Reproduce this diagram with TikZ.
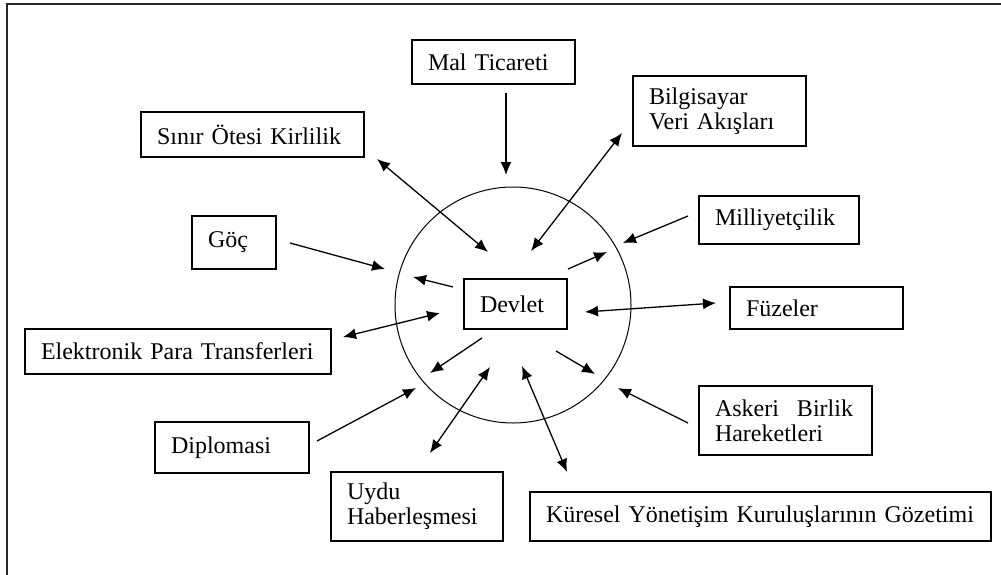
\documentclass[tikz,border=0pt]{standalone}
\usepackage{fontspec}
\setmainfont{Liberation Serif}
\usetikzlibrary{arrows.meta}
\usetikzlibrary{calc}

\tikzset{
  kutu/.style={draw, line width=1.3pt, align=left, inner xsep=16pt, inner ysep=0pt, font=\fontsize{24}{25}\selectfont},
  ok/.style={-{Latex[length=13pt,width=11pt]}, line width=1.3pt},
  cift/.style={{Latex[length=13pt,width=11pt]}-{Latex[length=13pt,width=11pt]}, line width=1.3pt},
}

\begin{document}
\begin{tikzpicture}[x=1pt,y=1pt,yscale=-1,xscale=1]
\useasboundingbox (0,0) rectangle (1001,575);

%Frame
\draw [line width=1.5pt, color=black!85] (7,575) -- (7,4) -- (1001,4);

%Shape: Circle
\node [draw, circle, line width=1pt, minimum size=236pt, inner sep=0pt] (cember) at (513,305) {};

% Text Node
\node [kutu, text width=71pt, minimum height=50pt] (devlet) at (515.5,304) {Devlet};
% Text Node
\node [kutu, text width=131pt, minimum height=44pt] (mal) at (493.5,62) {Mal Ticareti};
% Text Node
\node [kutu, text width=191pt, minimum height=45pt] (sinir) at (252.5,134.5) {Sınır Ötesi Kirlilik};
% Text Node
\node [kutu, text width=52pt, minimum height=53pt] (goc) at (234,242.5) {Göç};
% Text Node
\node [kutu, text width=141pt, minimum height=70pt] (bilgi) at (719.5,111) {Bilgisayar\\Veri Akışları};
% Text Node
\node [kutu, text width=128pt, minimum height=48pt] (milli) at (779,220) {Milliyetçilik};
% Text Node
\node [kutu, text width=141pt, minimum height=42pt] (fuze) at (816.5,308) {Füzeler};
% Text Node
\node [kutu, text width=274pt, minimum height=45pt] (elek) at (178,351.5) {Elektronik Para Transferleri};
% Text Node
\node [kutu, text width=122pt, minimum height=51pt] (diplo) at (232,447.5) {Diplomasi};
% Text Node
\node [kutu, text width=140pt, minimum height=69pt] (uydu) at (417,506.5) {Uydu\\Haberleşmesi};
% Text Node
\node [kutu, text width=141pt, minimum height=69pt] (askeri) at (785.5,420.5) {Askeri\hspace{18pt}Birlik\\Hareketleri};
% Text Node
\node [kutu, text width=429pt, minimum height=49pt] (kuresel) at (760.5,516.5) {Küresel Yönetişim Kuruluşlarının Gözetimi};

%Arrow ends
\coordinate (mal-a) at (506,93);
\coordinate (mal-b) at (506,175);
\coordinate (sinir-a) at (377,159);
\coordinate (sinir-b) at (488,252);
\coordinate (bilgi-a) at (622,133);
\coordinate (bilgi-b) at (531,251);
\coordinate (milli-a) at (688,216);
\coordinate (milli-b) at (623,243);
\coordinate (goc-a) at (290,243);
\coordinate (goc-b) at (385,269);
\coordinate (fuze-a) at (585,312);
\coordinate (fuze-b) at (716,303);
\coordinate (elek-a) at (343,337);
\coordinate (elek-b) at (440,313);
\coordinate (diplo-a) at (317,441);
\coordinate (diplo-b) at (416,388);
\coordinate (uydu-a) at (490,367);
\coordinate (uydu-b) at (430,453);
\coordinate (kuresel-a) at (522,366);
\coordinate (kuresel-b) at (567,472);
\coordinate (askeri-a) at (688,423);
\coordinate (askeri-b) at (618,388);
\coordinate (ic1-a) at (453,287);
\coordinate (ic1-b) at (413,277);
\coordinate (ic2-a) at (568,269);
\coordinate (ic2-b) at (607,252);
\coordinate (ic3-a) at (482,338);
\coordinate (ic3-b) at (430,373);
\coordinate (ic4-a) at (556,351);
\coordinate (ic4-b) at (595,374);

%Straight Lines
\draw [ok] (mal-a) -- (mal-b);
\draw [cift] (sinir-a) -- (sinir-b);
\draw [cift] (bilgi-a) -- (bilgi-b);
\draw [ok] (milli-a) -- (milli-b);
\draw [ok] (goc-a) -- (goc-b);
\draw [cift] (fuze-a) -- (fuze-b);
\draw [cift] (elek-a) -- (elek-b);
\draw [ok] (diplo-a) -- (diplo-b);
\draw [cift] (uydu-a) -- (uydu-b);
\draw [cift] (kuresel-a) -- (kuresel-b);
\draw [ok] (askeri-a) -- (askeri-b);
\draw [ok] (ic1-a) -- (ic1-b);
\draw [ok] (ic2-a) -- (ic2-b);
\draw [ok] (ic3-a) -- (ic3-b);
\draw [ok] (ic4-a) -- (ic4-b);

\end{tikzpicture}
\end{document}
